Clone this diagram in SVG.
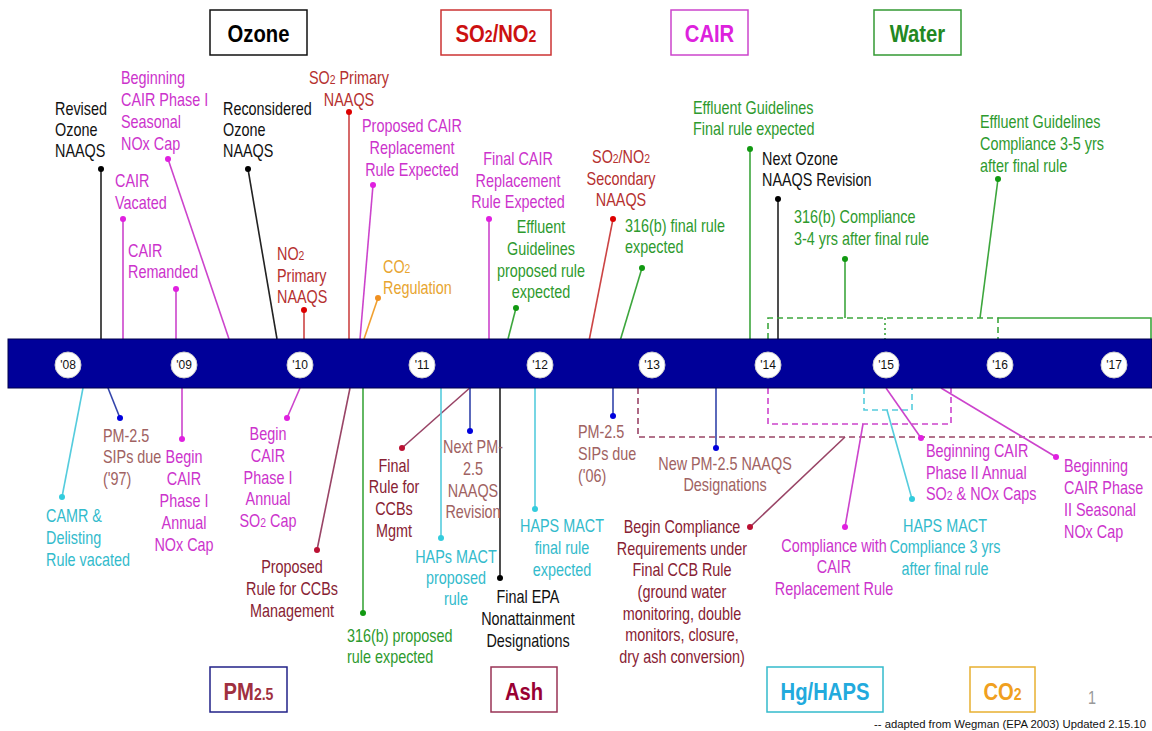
<svg xmlns="http://www.w3.org/2000/svg" width="1152" height="731" viewBox="0 0 1152 731">
<style>
.lbl{font-family:"Liberation Sans",Arial,sans-serif;font-size:18px}
.sub{font-size:13px}
.k{fill:#111}.m{fill:#CC33CC}.r{fill:#B5302F}.g{fill:#2E9A2E}.c{fill:#33BBCC}.o{fill:#E8A530}.b{fill:#A06262}.a{fill:#882233}
.ttl{font-family:"Liberation Sans",Arial,sans-serif;font-size:23px;font-weight:bold;text-anchor:middle}
.box{fill:#fff;stroke-width:1.5}
.yr{fill:#fff;stroke:#ccc;stroke-width:1}
.yt{font-family:"Liberation Sans",Arial,sans-serif;font-size:12px;text-anchor:middle;fill:#111}
.ln{fill:none;stroke-width:1.6}
.lk{stroke:#222}.lm{stroke:#CC44CC}.lr{stroke:#CC4444}.lg{stroke:#3DA63D}.lc{stroke:#55CCDD}.lo{stroke:#F0A030}.lb{stroke:#3344AA}.la{stroke:#994466}
.dash{stroke-dasharray:6,4}
.dot{stroke:none}
.dk{fill:#000}.dm{fill:#E020E0}.dr{fill:#DD0000}.dg{fill:#119911}.dc{fill:#33CCDD}.do{fill:#F09020}.db{fill:#0000DD}.da{fill:#BB1133}
</style>
<rect x="0" y="0" width="1152" height="731" fill="#fff"/>

<!-- category boxes -->
<g id="cat-ozone"><rect class="box" x="210" y="10" width="97" height="45" stroke="#111"/><text class="ttl" fill="#000" transform="translate(258.5,0) scale(0.88,1)" x="0" y="42">Ozone</text></g>
<g id="cat-so2no2"><rect class="box" x="441" y="10" width="110" height="45" stroke="#CC3333"/><text class="ttl" fill="#CC1111" transform="translate(496,0) scale(0.88,1)" x="0" y="42">SO<tspan font-size="16">2</tspan>/NO<tspan font-size="16">2</tspan></text></g>
<g id="cat-cair"><rect class="box" x="671" y="10" width="77" height="45" stroke="#CC44CC"/><text class="ttl" fill="#DD22DD" transform="translate(709.5,0) scale(0.88,1)" x="0" y="42">CAIR</text></g>
<g id="cat-water"><rect class="box" x="874" y="10" width="87" height="45" stroke="#339933"/><text class="ttl" fill="#228822" transform="translate(917.5,0) scale(0.88,1)" x="0" y="42">Water</text></g>
<g id="cat-pm25"><rect class="box" x="210" y="667" width="77" height="45" stroke="#222288"/><text class="ttl" fill="#A03040" transform="translate(248.5,0) scale(0.88,1)" x="0" y="700">PM<tspan font-size="16">2.5</tspan></text></g>
<g id="cat-ash"><rect class="box" x="491" y="667" width="66" height="45" stroke="#993355"/><text class="ttl" fill="#990033" transform="translate(524,0) scale(0.88,1)" x="0" y="700">Ash</text></g>
<g id="cat-hghaps"><rect class="box" x="767" y="667" width="116" height="45" stroke="#33BBCC"/><text class="ttl" fill="#22AADD" transform="translate(825,0) scale(0.88,1)" x="0" y="700">Hg/HAPS</text></g>
<g id="cat-co2"><rect class="box" x="970" y="667" width="65" height="45" stroke="#E8B030"/><text class="ttl" fill="#F0A020" transform="translate(1002.5,0) scale(0.88,1)" x="0" y="700">CO<tspan font-size="16">2</tspan></text></g>

<!-- connectors -->
<g id="connectors">
<path class="ln lk" d="M101,169 V339"/>
<path class="ln lm" d="M168,159 L229,339"/>
<path class="ln lm" d="M123,219 V339"/>
<path class="ln lm" d="M176,289 V339"/>
<path class="ln lk" d="M248,169 L277,339"/>
<path class="ln lr" d="M349,112 V339"/>
<path class="ln lm" d="M373,185 L360,339"/>
<path class="ln lr" d="M304,310 V339"/>
<path class="ln lo" d="M378,298 L364,339"/>
<path class="ln lm" d="M489,219 V339"/>
<path class="ln lg" d="M516,308 L508,339"/>
<path class="ln lr" d="M613,219 L589,341"/>
<path class="ln lg" d="M642,268 L620,341"/>
<path class="ln lg" d="M750,149 V339"/>
<path class="ln lk" d="M778,199 V339"/>
<path class="ln lg" d="M845,259 V318"/>
<path class="ln lg" d="M998,179 L980,318"/>
<path class="ln lg dash" d="M768,339 V318 H998 V339"/>
<path class="ln lg" stroke-dasharray="2,3" stroke-width="1.2" d="M885,318 V339"/>
<path class="ln lg" stroke-width="1.2" d="M998,318 H1151 V339"/>

<path class="ln lc" d="M62,497 L83,388"/>
<path class="ln lb" d="M120,418 L108,388"/>
<path class="ln lm" d="M182,439 V388"/>
<path class="ln lm" d="M287,418 L300,388"/>
<path class="ln la" d="M317,550 L350,388"/>
<path class="ln lg" d="M363,613 V388"/>
<path class="ln la" d="M402,448 L472,386"/>
<path class="ln lc" d="M441,538 V388"/>
<path class="ln lb" d="M470,431 V388"/>
<path class="ln lk" d="M500,578 V388"/>
<path class="ln lc" d="M535,509 V388"/>
<path class="ln lb" d="M613,416 V388"/>
<path class="ln lb" d="M716,448 V388"/>
<path class="ln la dash" d="M638,388 V437 H1152"/>
<path class="ln lm dash" d="M768,388 V424 H951 V388"/>
<path class="ln lc dash" d="M864,388 V410 H912 V388"/>
<path class="ln la" d="M750,527 L845,437"/>
<path class="ln lm" d="M845,527 L863,424"/>
<path class="ln lc" d="M912,499 L887,410"/>
<path class="ln lm" d="M921,438 L886,388"/>
<path class="ln lm" d="M1056,457 L941,388"/>
</g>

<!-- timeline bar -->
<g id="timeline">
<rect x="8" y="339" width="1144" height="49" fill="#000099" stroke="#00004d" stroke-width="1"/>
<circle class="yr" cx="68" cy="365" r="13"/><text class="yt" x="68" y="369">'08</text>
<circle class="yr" cx="184" cy="365" r="13"/><text class="yt" x="184" y="369">'09</text>
<circle class="yr" cx="300" cy="365" r="13"/><text class="yt" x="300" y="369">'10</text>
<circle class="yr" cx="422" cy="365" r="13"/><text class="yt" x="422" y="369">'11</text>
<circle class="yr" cx="540" cy="365" r="13"/><text class="yt" x="540" y="369">'12</text>
<circle class="yr" cx="652" cy="365" r="13"/><text class="yt" x="652" y="369">'13</text>
<circle class="yr" cx="768" cy="365" r="13"/><text class="yt" x="768" y="369">'14</text>
<circle class="yr" cx="886" cy="365" r="13"/><text class="yt" x="886" y="369">'15</text>
<circle class="yr" cx="1000" cy="365" r="13"/><text class="yt" x="1000" y="369">'16</text>
<circle class="yr" cx="1114" cy="365" r="13"/><text class="yt" x="1114" y="369">'17</text>
</g>

<!-- top labels -->
<g id="n-revised-ozone"><text class="lbl k" transform="translate(55,0) scale(0.8,1)"><tspan x="0" y="115">Revised</tspan><tspan x="0" y="136">Ozone</tspan><tspan x="0" y="157">NAAQS</tspan></text><circle class="dot dk" cx="101" cy="169" r="3"/></g>
<g id="n-cair-phase1-seasonal"><text class="lbl m" transform="translate(121,0) scale(0.8,1)"><tspan x="0" y="84">Beginning</tspan><tspan x="0" y="106">CAIR Phase I</tspan><tspan x="0" y="128">Seasonal</tspan><tspan x="0" y="150">NOx Cap</tspan></text><circle class="dot dm" cx="168" cy="159" r="3"/></g>
<g id="n-cair-vacated"><text class="lbl m" transform="translate(115,0) scale(0.8,1)"><tspan x="0" y="187">CAIR</tspan><tspan x="0" y="209">Vacated</tspan></text><circle class="dot dm" cx="123" cy="219" r="3"/></g>
<g id="n-cair-remanded"><text class="lbl m" transform="translate(128,0) scale(0.8,1)"><tspan x="0" y="257">CAIR</tspan><tspan x="0" y="278">Remanded</tspan></text><circle class="dot dm" cx="176" cy="289" r="3"/></g>
<g id="n-reconsidered-ozone"><text class="lbl k" transform="translate(223,0) scale(0.8,1)"><tspan x="0" y="115">Reconsidered</tspan><tspan x="0" y="136">Ozone</tspan><tspan x="0" y="157">NAAQS</tspan></text><circle class="dot dk" cx="248" cy="169" r="3"/></g>
<g id="n-so2-primary"><text class="lbl r" text-anchor="middle" transform="translate(349,0) scale(0.8,1)"><tspan x="0" y="84">SO<tspan class="sub">2</tspan> Primary</tspan><tspan x="0" y="106">NAAQS</tspan></text><circle class="dot dr" cx="349" cy="112" r="3"/></g>
<g id="n-proposed-cair-repl"><text class="lbl m" text-anchor="middle" transform="translate(412,0) scale(0.8,1)"><tspan x="0" y="132">Proposed CAIR</tspan><tspan x="0" y="154">Replacement</tspan><tspan x="0" y="176">Rule Expected</tspan></text><circle class="dot dm" cx="373" cy="185" r="3"/></g>
<g id="n-no2-primary"><text class="lbl r" transform="translate(277,0) scale(0.8,1)"><tspan x="0" y="260">NO<tspan class="sub">2</tspan></tspan><tspan x="0" y="282">Primary</tspan><tspan x="0" y="303">NAAQS</tspan></text><circle class="dot dr" cx="304" cy="310" r="3"/></g>
<g id="n-co2-regulation"><text class="lbl o" transform="translate(383,0) scale(0.8,1)"><tspan x="0" y="273">CO<tspan class="sub">2</tspan></tspan><tspan x="0" y="294">Regulation</tspan></text><circle class="dot do" cx="378" cy="298" r="3"/></g>
<g id="n-final-cair-repl"><text class="lbl m" text-anchor="middle" transform="translate(518,0) scale(0.8,1)"><tspan x="0" y="165">Final CAIR</tspan><tspan x="0" y="187">Replacement</tspan><tspan x="0" y="208">Rule Expected</tspan></text><circle class="dot dm" cx="489" cy="219" r="3"/></g>
<g id="n-effluent-proposed"><text class="lbl g" text-anchor="middle" transform="translate(541,0) scale(0.8,1)"><tspan x="0" y="233">Effluent</tspan><tspan x="0" y="255">Guidelines</tspan><tspan x="0" y="277">proposed rule</tspan><tspan x="0" y="298">expected</tspan></text><circle class="dot dg" cx="516" cy="308" r="3"/></g>
<g id="n-so2no2-secondary"><text class="lbl r" text-anchor="middle" transform="translate(621,0) scale(0.8,1)"><tspan x="0" y="163">SO<tspan class="sub">2</tspan>/NO<tspan class="sub">2</tspan></tspan><tspan x="0" y="185">Secondary</tspan><tspan x="0" y="206">NAAQS</tspan></text><circle class="dot dr" cx="613" cy="219" r="3"/></g>
<g id="n-316b-final"><text class="lbl g" transform="translate(625,0) scale(0.8,1)"><tspan x="0" y="232">316(b) final rule</tspan><tspan x="0" y="253">expected</tspan></text><circle class="dot dg" cx="642" cy="268" r="3"/></g>
<g id="n-effluent-final"><text class="lbl g" transform="translate(693,0) scale(0.8,1)"><tspan x="0" y="114">Effluent Guidelines</tspan><tspan x="0" y="135">Final rule expected</tspan></text><circle class="dot dg" cx="750" cy="149" r="3"/></g>
<g id="n-next-ozone"><text class="lbl k" transform="translate(762,0) scale(0.8,1)"><tspan x="0" y="165">Next Ozone</tspan><tspan x="0" y="186">NAAQS Revision</tspan></text><circle class="dot dk" cx="778" cy="199" r="3"/></g>
<g id="n-316b-compliance"><text class="lbl g" transform="translate(794,0) scale(0.8,1)"><tspan x="0" y="223">316(b) Compliance</tspan><tspan x="0" y="245">3-4 yrs after final rule</tspan></text><circle class="dot dg" cx="845" cy="259" r="3"/></g>
<g id="n-effluent-compliance"><text class="lbl g" transform="translate(980,0) scale(0.8,1)"><tspan x="0" y="128">Effluent Guidelines</tspan><tspan x="0" y="150">Compliance 3-5 yrs</tspan><tspan x="0" y="172">after final rule</tspan></text><circle class="dot dg" cx="998" cy="179" r="3"/></g>

<!-- bottom labels -->
<g id="n-camr"><text class="lbl c" transform="translate(46,0) scale(0.8,1)"><tspan x="0" y="522">CAMR &amp;</tspan><tspan x="0" y="544">Delisting</tspan><tspan x="0" y="566">Rule vacated</tspan></text><circle class="dot dc" cx="62" cy="497" r="3"/></g>
<g id="n-pm-sips-97"><text class="lbl b" transform="translate(103,0) scale(0.8,1)"><tspan x="0" y="442">PM-2.5</tspan><tspan x="0" y="463">SIPs due</tspan><tspan x="0" y="485">('97)</tspan></text><circle class="dot db" cx="120" cy="418" r="3"/></g>
<g id="n-cair-phase1-nox"><text class="lbl m" text-anchor="middle" transform="translate(184,0) scale(0.8,1)"><tspan x="0" y="463">Begin</tspan><tspan x="0" y="485">CAIR</tspan><tspan x="0" y="507">Phase I</tspan><tspan x="0" y="529">Annual</tspan><tspan x="0" y="551">NOx Cap</tspan></text><circle class="dot dm" cx="182" cy="439" r="3"/></g>
<g id="n-cair-phase1-so2"><text class="lbl m" text-anchor="middle" transform="translate(268,0) scale(0.8,1)"><tspan x="0" y="440">Begin</tspan><tspan x="0" y="462">CAIR</tspan><tspan x="0" y="484">Phase I</tspan><tspan x="0" y="505">Annual</tspan><tspan x="0" y="527">SO<tspan class="sub">2</tspan> Cap</tspan></text><circle class="dot dm" cx="287" cy="418" r="3"/></g>
<g id="n-proposed-ccb"><text class="lbl a" text-anchor="middle" transform="translate(292,0) scale(0.8,1)"><tspan x="0" y="573">Proposed</tspan><tspan x="0" y="595">Rule for CCBs</tspan><tspan x="0" y="617">Management</tspan></text><circle class="dot da" cx="317" cy="550" r="3"/></g>
<g id="n-316b-proposed"><text class="lbl g" transform="translate(347,0) scale(0.8,1)"><tspan x="0" y="642">316(b) proposed</tspan><tspan x="0" y="663">rule expected</tspan></text><circle class="dot dg" cx="363" cy="613" r="3"/></g>
<g id="n-final-ccb"><text class="lbl a" text-anchor="middle" transform="translate(394,0) scale(0.8,1)"><tspan x="0" y="472">Final</tspan><tspan x="0" y="493">Rule for</tspan><tspan x="0" y="515">CCBs</tspan><tspan x="0" y="537">Mgmt</tspan></text><circle class="dot da" cx="402" cy="448" r="3"/></g>
<g id="n-haps-proposed"><text class="lbl c" text-anchor="middle" transform="translate(456,0) scale(0.8,1)"><tspan x="0" y="563">HAPs MACT</tspan><tspan x="0" y="584">proposed</tspan><tspan x="0" y="605">rule</tspan></text><circle class="dot dc" cx="441" cy="538" r="3"/></g>
<g id="n-next-pm"><text class="lbl b" text-anchor="middle" transform="translate(473,0) scale(0.8,1)"><tspan x="0" y="453">Next PM-</tspan><tspan x="0" y="475">2.5</tspan><tspan x="0" y="497">NAAQS</tspan><tspan x="0" y="518">Revision</tspan></text><circle class="dot db" cx="470" cy="431" r="3"/></g>
<g id="n-final-epa"><text class="lbl k" text-anchor="middle" transform="translate(528,0) scale(0.8,1)"><tspan x="0" y="603">Final EPA</tspan><tspan x="0" y="625">Nonattainment</tspan><tspan x="0" y="647">Designations</tspan></text><circle class="dot dk" cx="500" cy="578" r="3"/></g>
<g id="n-haps-final"><text class="lbl c" text-anchor="middle" transform="translate(562,0) scale(0.8,1)"><tspan x="0" y="532">HAPS MACT</tspan><tspan x="0" y="554">final rule</tspan><tspan x="0" y="576">expected</tspan></text><circle class="dot dc" cx="535" cy="509" r="3"/></g>
<g id="n-pm-sips-06"><text class="lbl b" transform="translate(578,0) scale(0.8,1)"><tspan x="0" y="438">PM-2.5</tspan><tspan x="0" y="460">SIPs due</tspan><tspan x="0" y="482">('06)</tspan></text><circle class="dot db" cx="613" cy="416" r="3"/></g>
<g id="n-new-pm"><text class="lbl b" text-anchor="middle" transform="translate(725,0) scale(0.8,1)"><tspan x="0" y="470">New PM-2.5 NAAQS</tspan><tspan x="0" y="491">Designations</tspan></text><circle class="dot db" cx="716" cy="448" r="3"/></g>
<g id="n-ccb-compliance"><text class="lbl a" text-anchor="middle" transform="translate(682,0) scale(0.8,1)"><tspan x="0" y="533">Begin Compliance</tspan><tspan x="0" y="555">Requirements under</tspan><tspan x="0" y="576">Final CCB Rule</tspan><tspan x="0" y="598">(ground water</tspan><tspan x="0" y="620">monitoring, double</tspan><tspan x="0" y="641">monitors, closure,</tspan><tspan x="0" y="663">dry ash conversion)</tspan></text><circle class="dot da" cx="750" cy="527" r="3"/></g>
<g id="n-cair-repl-compliance"><text class="lbl m" text-anchor="middle" transform="translate(834,0) scale(0.8,1)"><tspan x="0" y="552">Compliance with</tspan><tspan x="0" y="573">CAIR</tspan><tspan x="0" y="595">Replacement Rule</tspan></text><circle class="dot dm" cx="845" cy="527" r="3"/></g>
<g id="n-haps-compliance"><text class="lbl c" text-anchor="middle" transform="translate(945,0) scale(0.8,1)"><tspan x="0" y="532">HAPS MACT</tspan><tspan x="0" y="553">Compliance 3 yrs</tspan><tspan x="0" y="575">after final rule</tspan></text><circle class="dot dc" cx="912" cy="499" r="3"/></g>
<g id="n-cair-phase2-annual"><text class="lbl m" transform="translate(926,0) scale(0.8,1)"><tspan x="0" y="457">Beginning CAIR</tspan><tspan x="0" y="479">Phase II Annual</tspan><tspan x="0" y="500">SO<tspan class="sub">2</tspan> &amp; NOx Caps</tspan></text><circle class="dot dm" cx="921" cy="438" r="3"/></g>
<g id="n-cair-phase2-seasonal"><text class="lbl m" transform="translate(1064,0) scale(0.8,1)"><tspan x="0" y="472">Beginning</tspan><tspan x="0" y="494">CAIR Phase</tspan><tspan x="0" y="516">II Seasonal</tspan><tspan x="0" y="538">NOx Cap</tspan></text><circle class="dot dm" cx="1056" cy="457" r="3"/></g>

<g id="footer">
<text class="lbl" fill="#999" transform="translate(1088,0) scale(0.8,1)" x="0" y="704">1</text>
<text font-family="Liberation Sans, Arial, sans-serif" font-size="11" fill="#111" x="874" y="728" textLength="272" lengthAdjust="spacingAndGlyphs">-- adapted from  Wegman (EPA 2003)  Updated 2.15.10</text>
</g>
</svg>
